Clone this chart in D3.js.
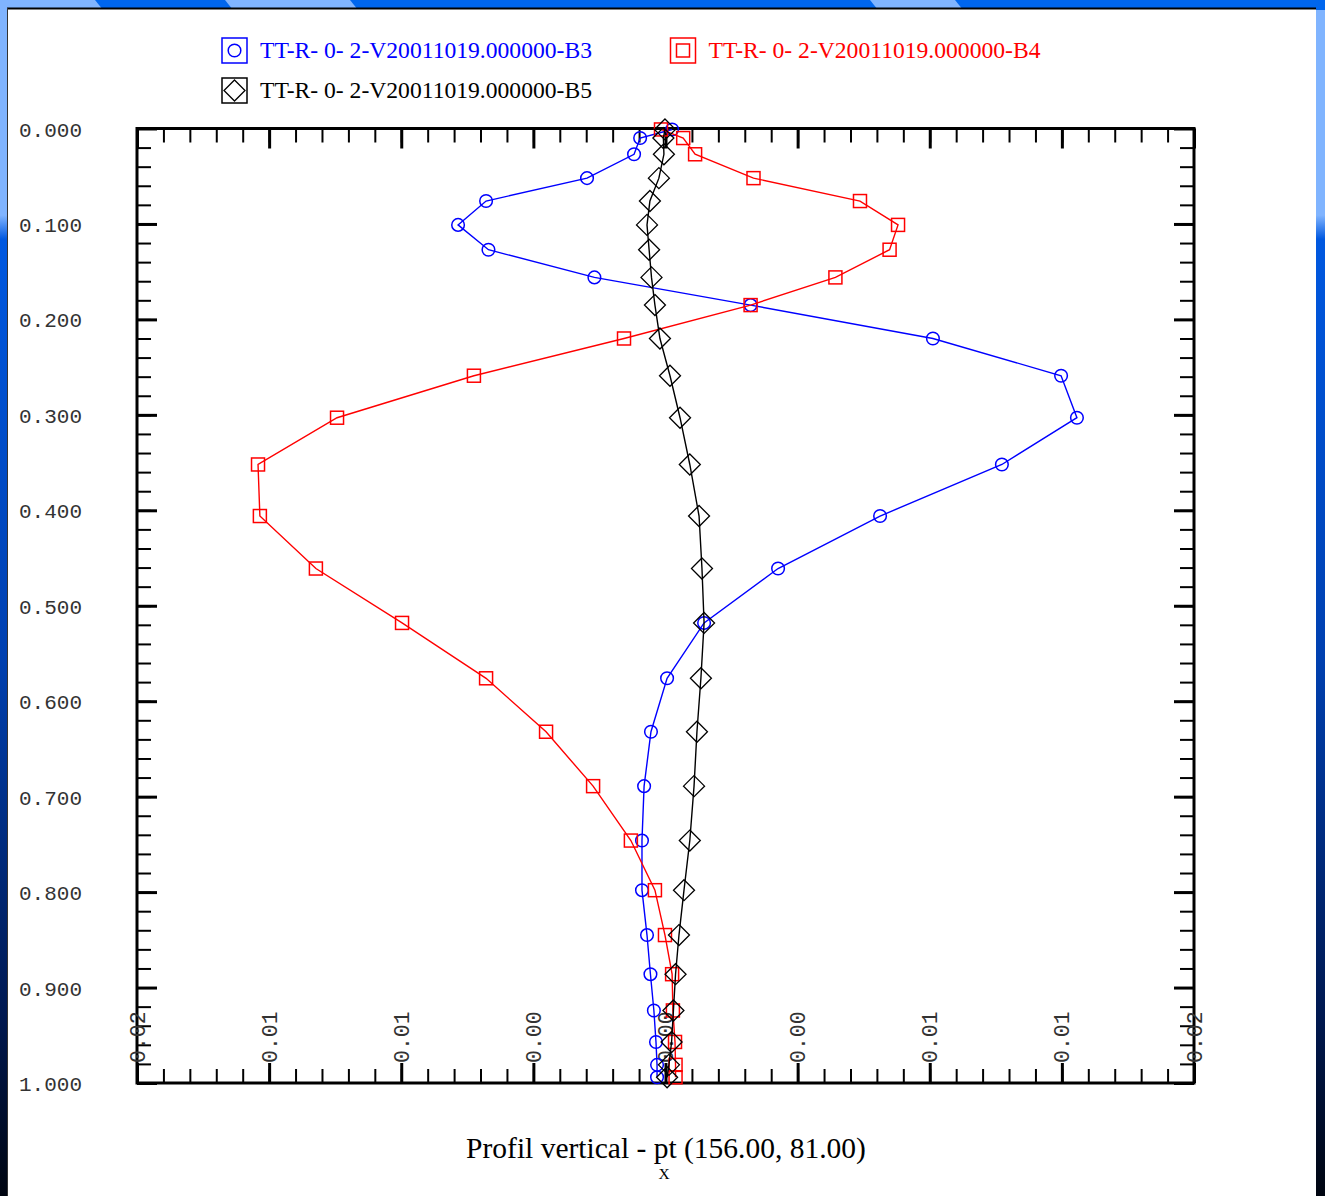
<!DOCTYPE html>
<html>
<head>
<meta charset="utf-8">
<script src="https://cdn.jsdelivr.net/npm/d3@7"></script>
<style>
  html, body { margin: 0; padding: 0; background: #000; }
  svg { display: block; }
</style>
</head>
<body>
<script>
// Vertical levels (normalised depth, 0 = surface, 1 = bottom)
const depth = [0.001, 0.010, 0.027, 0.052, 0.076, 0.101, 0.127, 0.156, 0.185, 0.220,
               0.259, 0.303, 0.352, 0.406, 0.461, 0.518, 0.576, 0.632, 0.689, 0.746,
               0.798, 0.845, 0.886, 0.924, 0.957, 0.981, 0.994];

// Profile values for the three runs
const valuesB3 = [0.00025, -0.00096, -0.00119, -0.00297, -0.00679, -0.00785, -0.00670, -0.00269, 0.00322, 0.01012,
                  0.01497, 0.01557, 0.01273, 0.00812, 0.00426, 0.00146, 0.00006, -0.00055, -0.00081, -0.00089,
                  -0.00089, -0.00070, -0.00057, -0.00044, -0.00036, -0.00032, -0.00032];
const valuesB4 = [-0.00017, 0.00067, 0.00112, 0.00333, 0.00736, 0.00880, 0.00848, 0.00643, 0.00322, -0.00157,
                  -0.00725, -0.01243, -0.01542, -0.01535, -0.01323, -0.00997, -0.00679, -0.00452, -0.00274, -0.00131,
                  -0.00040, -0.00002, 0.00025, 0.00028, 0.00036, 0.00038, 0.00038];
const valuesB5 = [-0.00002, -0.00008, -0.00006, -0.00025, -0.00059, -0.00070, -0.00062, -0.00053, -0.00040, -0.00021,
                  0.00017, 0.00055, 0.00092, 0.00127, 0.00138, 0.00146, 0.00134, 0.00119, 0.00108, 0.00092,
                  0.00070, 0.00051, 0.00038, 0.00030, 0.00023, 0.00013, 0.00006];

const seriesNames = ["TT-R- 0- 2-V20011019.000000-B3",
                     "TT-R- 0- 2-V20011019.000000-B4",
                     "TT-R- 0- 2-V20011019.000000-B5"];

// Axis ticks
const xTickValues = [-0.02, -0.015, -0.01, -0.005, 0, 0.005, 0.01, 0.015, 0.02];
const xTickLabels = ["0.02", "0.01", "0.01", "0.00", "0.00", "0.00", "0.01", "0.01", "0.02"];
const yTickValues = [0, 0.1, 0.2, 0.3, 0.4, 0.5, 0.6, 0.7, 0.8, 0.9, 1.0];
const yTickLabels = ["0.000", "0.100", "0.200", "0.300", "0.400", "0.500",
                     "0.600", "0.700", "0.800", "0.900", "1.000"];

const titleText = "Profil vertical - pt (156.00, 81.00)";

const W = 1325, H = 1196;
const svg = d3.select("body").append("svg").attr("width", W).attr("height", H);

// ---- slide background -------------------------------------------------
const defs = svg.append("defs");
const lg = defs.append("linearGradient").attr("id", "sideGrad")
  .attr("x1", 0).attr("y1", 0).attr("x2", 0).attr("y2", 1);
lg.append("stop").attr("offset", "0").attr("stop-color", "#80b4ff");
lg.append("stop").attr("offset", "0.18").attr("stop-color", "#80b4ff");
lg.append("stop").attr("offset", "0.20").attr("stop-color", "#0058e0");
lg.append("stop").attr("offset", "0.55").attr("stop-color", "#0040b0");
lg.append("stop").attr("offset", "0.85").attr("stop-color", "#001850");
lg.append("stop").attr("offset", "1").attr("stop-color", "#000510");
svg.append("rect").attr("width", W).attr("height", H).attr("fill", "url(#sideGrad)");

// top band with diagonal light stripes
svg.append("rect").attr("x", 0).attr("y", 0).attr("width", W).attr("height", 10).attr("fill", "#0066ee");
const stripes = [[-20, 95], [225, 350], [870, 955]];
stripes.forEach(([a, b]) => {
  svg.append("path")
    .attr("d", `M${a},0 L${b},0 L${b + 8},10 L${a + 8},10 Z`)
    .attr("fill", "#80b4ff");
});

// white chart panel
svg.append("rect").attr("x", 8).attr("y", 9).attr("width", 1308).attr("height", H - 9).attr("fill", "#ffffff");
svg.append("line").attr("x1", 7).attr("x2", 1316).attr("y1", 8.5).attr("y2", 8.5)
  .attr("stroke", "#000").attr("stroke-width", 2);
svg.append("line").attr("x1", 7.5).attr("x2", 7.5).attr("y1", 8).attr("y2", H)
  .attr("stroke", "#333").attr("stroke-width", 1);

// ---- scales -------------------------------------------------------------
const x = d3.scaleLinear().domain([-0.02, 0.02]).range([137, 1194]);
const y = d3.scaleLinear().domain([0, 1]).range([128.5, 1083]);

const xMinor = d3.range(0, 41).map(i => -0.02 + i * 0.001);
const yMinor = d3.range(0, 51).map(i => i * 0.02);

function styleTicks(g, width) {
  g.select(".domain").remove();
  g.selectAll(".tick line").attr("stroke", "#000").attr("stroke-width", width);
  g.selectAll(".tick text").remove();
}

const axesG = svg.append("g");
// left edge: ticks point inward (to the right)
axesG.append("g").attr("transform", `translate(${x.range()[0]},0)`)
  .call(d3.axisRight(y).tickValues(yMinor).tickSize(14).tickFormat(""))
  .call(g => styleTicks(g, 2));
axesG.append("g").attr("transform", `translate(${x.range()[0]},0)`)
  .call(d3.axisRight(y).tickValues(yTickValues).tickSize(20).tickFormat(""))
  .call(g => styleTicks(g, 3));
// right edge
axesG.append("g").attr("transform", `translate(${x.range()[1]},0)`)
  .call(d3.axisLeft(y).tickValues(yMinor).tickSize(14).tickFormat(""))
  .call(g => styleTicks(g, 2));
axesG.append("g").attr("transform", `translate(${x.range()[1]},0)`)
  .call(d3.axisLeft(y).tickValues(yTickValues).tickSize(20).tickFormat(""))
  .call(g => styleTicks(g, 3));
// top edge
axesG.append("g").attr("transform", `translate(0,${y.range()[0]})`)
  .call(d3.axisBottom(x).tickValues(xMinor).tickSize(14).tickFormat(""))
  .call(g => styleTicks(g, 2));
axesG.append("g").attr("transform", `translate(0,${y.range()[0]})`)
  .call(d3.axisBottom(x).tickValues(xTickValues).tickSize(20).tickFormat(""))
  .call(g => styleTicks(g, 3));
// bottom edge
axesG.append("g").attr("transform", `translate(0,${y.range()[1]})`)
  .call(d3.axisTop(x).tickValues(xMinor).tickSize(14).tickFormat(""))
  .call(g => styleTicks(g, 2));
axesG.append("g").attr("transform", `translate(0,${y.range()[1]})`)
  .call(d3.axisTop(x).tickValues(xTickValues).tickSize(20).tickFormat(""))
  .call(g => styleTicks(g, 3));

// frame
svg.append("rect")
  .attr("x", x.range()[0]).attr("y", y.range()[0])
  .attr("width", x.range()[1] - x.range()[0]).attr("height", y.range()[1] - y.range()[0])
  .attr("fill", "none").attr("stroke", "#000").attr("stroke-width", 3);

// y tick labels (left of the frame)
svg.append("g").selectAll("text").data(yTickValues).join("text")
  .attr("x", 19).attr("y", d => y(d) + 2.5)
  .attr("dominant-baseline", "central")
  .attr("font-family", "'Liberation Mono', monospace")
  .attr("font-size", 21).attr("fill", "#333")
  .text((d, i) => yTickLabels[i]);

// x tick labels, rotated, inside the frame above the bottom edge
svg.append("g").selectAll("text").data(xTickValues).join("text")
  .attr("transform", d => `translate(${x(d)},1063) rotate(-90)`)
  .attr("dy", "0.35em")
  .attr("font-family", "'Liberation Mono', monospace")
  .attr("font-size", 21.5).attr("fill", "#333")
  .text((d, i) => xTickLabels[i]);

// ---- series -------------------------------------------------------------
const colors = ["#0000ff", "#ff0000", "#000000"];
const allValues = [valuesB3, valuesB4, valuesB5];

const line = d3.line().x(d => x(d[0])).y(d => y(d[1]));

function marker(g, type, color, cx, cy) {
  if (type === 0) {
    g.append("circle").attr("cx", cx).attr("cy", cy).attr("r", 6.3)
      .attr("fill", "none").attr("stroke", color).attr("stroke-width", 1.5);
  } else if (type === 1) {
    g.append("rect").attr("x", cx - 6.5).attr("y", cy - 6.5).attr("width", 13).attr("height", 13)
      .attr("fill", "none").attr("stroke", color).attr("stroke-width", 1.5);
  } else {
    const r = 10.5;
    g.append("path").attr("d", `M${cx},${cy - r} L${cx + r},${cy} L${cx},${cy + r} L${cx - r},${cy} Z`)
      .attr("fill", "none").attr("stroke", color).attr("stroke-width", 1.3);
  }
}

allValues.forEach((vals, s) => {
  const pts = vals.map((v, i) => [v, depth[i]]);
  const g = svg.append("g");
  g.append("path").attr("d", line(pts)).attr("fill", "none")
    .attr("stroke", colors[s]).attr("stroke-width", 1.4);
  pts.forEach(p => marker(g, s, colors[s], x(p[0]), y(p[1])));
});

// ---- legend ---------------------------------------------------------------
const legendPos = [[234.5, 50.5], [683, 50.5], [234.5, 90.5]];
seriesNames.forEach((name, s) => {
  const [cx, cy] = legendPos[s];
  const g = svg.append("g");
  g.append("rect").attr("x", cx - 12.5).attr("y", cy - 12.5).attr("width", 25).attr("height", 25)
    .attr("fill", "none").attr("stroke", colors[s]).attr("stroke-width", 1.5);
  marker(g, s, colors[s], cx, cy);
  g.append("text").attr("x", cx + 25.5).attr("y", cy + 7.5)
    .attr("font-family", "'Liberation Serif', serif").attr("font-size", 23)
    .attr("textLength", 332).attr("lengthAdjust", "spacingAndGlyphs")
    .attr("fill", colors[s]).text(name);
});

// ---- title ------------------------------------------------------------------
svg.append("text").attr("x", 666).attr("y", 1158).attr("text-anchor", "middle")
  .attr("font-family", "'Liberation Serif', serif").attr("font-size", 29.5)
  .attr("fill", "#000").text(titleText);
svg.append("text").attr("x", 664).attr("y", 1178.5).attr("text-anchor", "middle")
  .attr("font-family", "'Liberation Serif', serif").attr("font-size", 15.5)
  .attr("fill", "#000").text("X");
</script>
</body>
</html>
